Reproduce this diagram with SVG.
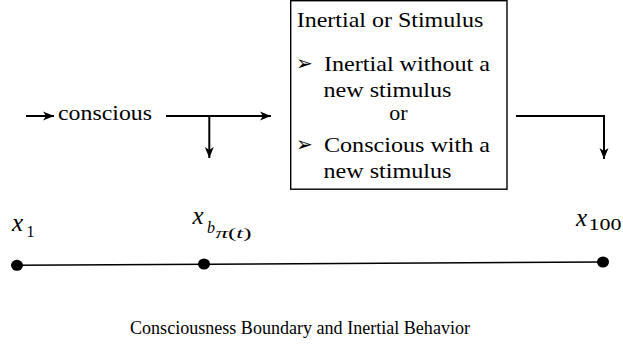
<svg xmlns="http://www.w3.org/2000/svg" width="623" height="352" viewBox="0 0 623 352">
  <style>
    .t { font-family: 'Liberation Serif', 'DejaVu Serif', serif; fill: #000; }
    .bul { font-family: 'DejaVu Sans', sans-serif; fill: #000; }
    .mx { font-family: 'Liberation Serif', 'DejaVu Serif', serif; font-style: italic; fill: #000; }
    .ms { font-family: 'Liberation Serif', 'DejaVu Serif', serif; fill: #000; }
    .conn { fill: none; stroke: #000; stroke-width: 2; }
    .axis { fill: none; stroke: #000; stroke-width: 1.5; }
  </style>
  <defs>
    <marker id="ah" markerUnits="userSpaceOnUse" markerWidth="12" markerHeight="10" refX="11" refY="5" orient="auto">
      <path d="M0,0.5 L11,5 L0,9.5 L3,5 z" fill="#000"/>
    </marker>
  </defs>
  <rect width="623" height="352" fill="#fff"/>

  <g id="box">
    <rect x="290.7" y="0.7" width="216.3" height="188.5" fill="#fff" stroke="#000" stroke-width="1.4"/>
    <text class="t" x="296.7" y="27" font-size="22" textLength="186.6" lengthAdjust="spacingAndGlyphs">Inertial or Stimulus</text>
    <text class="bul" x="296" y="70" font-size="20">➢</text>
    <text class="t" x="324" y="70.5" font-size="22" textLength="166" lengthAdjust="spacingAndGlyphs">Inertial without a</text>
    <text class="t" x="323.5" y="96.5" font-size="22" textLength="128" lengthAdjust="spacingAndGlyphs">new stimulus</text>
    <text class="t" x="398.5" y="120" font-size="22" text-anchor="middle">or</text>
    <text class="bul" x="296" y="151" font-size="20">➢</text>
    <text class="t" x="324" y="151.5" font-size="22" textLength="166" lengthAdjust="spacingAndGlyphs">Conscious with a</text>
    <text class="t" x="323.5" y="178" font-size="22" textLength="128" lengthAdjust="spacingAndGlyphs">new stimulus</text>
  </g>

  <g id="conscious">
    <text class="t" x="58" y="119.5" font-size="22" textLength="94" lengthAdjust="spacingAndGlyphs">conscious</text>
  </g>

  <g id="connectors">
    <line class="conn" x1="26" y1="116" x2="54" y2="116" marker-end="url(#ah)"/>
    <line class="conn" x1="166" y1="116" x2="271" y2="116" marker-end="url(#ah)"/>
    <line class="conn" x1="209.3" y1="116" x2="209.3" y2="158" marker-end="url(#ah)"/>
    <path class="conn" d="M516,116 H604 V159" marker-end="url(#ah)"/>
  </g>

  <g id="timeline">
    <line class="axis" x1="17" y1="265.3" x2="603" y2="262"/>
  </g>

  <g id="x1">
    <text class="mx" x="12" y="230.5" font-size="25">x</text>
    <text class="ms" x="26.5" y="237" font-size="16">1</text>
    <ellipse cx="17" cy="265.3" rx="6" ry="5.5" fill="#000"/>
  </g>

  <g id="xb">
    <text class="mx" x="192.5" y="224" font-size="25">x</text>
    <text class="mx" x="207" y="233" font-size="16">b</text>
    <text class="ms" x="215.5" y="237.5" font-size="14" textLength="36" lengthAdjust="spacingAndGlyphs"><tspan font-style="italic">π</tspan>(<tspan font-style="italic">t</tspan>)</text>
    <ellipse cx="204" cy="264" rx="6" ry="5.5" fill="#000"/>
  </g>

  <g id="x100">
    <text class="mx" x="576" y="226" font-size="25">x</text>
    <text class="ms" x="588.5" y="230" font-size="16" textLength="33" lengthAdjust="spacingAndGlyphs">100</text>
    <ellipse cx="603" cy="262" rx="6" ry="5.5" fill="#000"/>
  </g>

  <g id="caption">
    <text class="t" x="130" y="334" font-size="18" textLength="340" lengthAdjust="spacingAndGlyphs">Consciousness Boundary and Inertial Behavior</text>
  </g>
</svg>
